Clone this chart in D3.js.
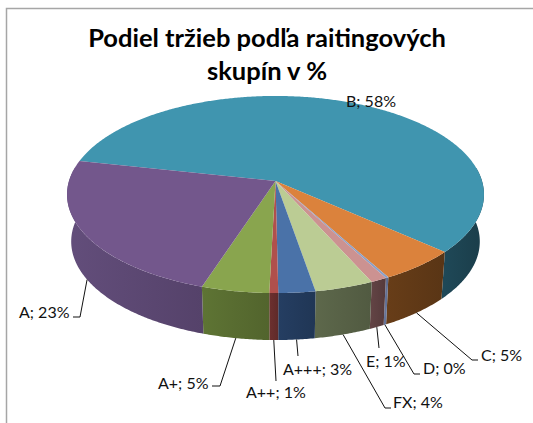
<!DOCTYPE html>
<html>
<head>
<meta charset="utf-8">
<script src="https://cdnjs.cloudflare.com/ajax/libs/d3/7.8.5/d3.min.js"></script>
<style>
  html, body { margin: 0; padding: 0; background: #fff; }
  svg { display: block; }
  text { font-family: Lato, "Open Sans", sans-serif; fill: #111; }
</style>
</head>
<body>
<div id="chart"></div>
<script>
  const titleLines = ["Podiel tržieb podľa raitingových", "skupín v %"];

  const categories = ["B", "C", "D", "E", "FX", "A+++", "A++", "A+", "A"];
  const shares = [58.2, 5.4, 0.2, 1.1, 4, 2.5, 0.6, 4.6, 23.4];
  const topColors = ["#4095AF", "#DB823C", "#8AA0C8", "#CC9291", "#BBCC94", "#4A72A8", "#B0504C", "#89A54E", "#73578C"];
  const sideColors = ["#1C4250", "#5E3816", "#5C6A8C", "#5A3D3E", "#555F45", "#22395A", "#642C2B", "#566A30", "#5A4670"];

  // label layout: text anchor point and the leader's elbow + end
  const labelLayout = {
    "B":    { x: 346, y: 107 },
    "C":    { x: 481, y: 361, leader: [[472, 360], [478, 360]] },
    "D":    { x: 423, y: 374, leader: [[414, 374], [420, 374]] },
    "E":    { x: 366, y: 367, leader: [[379, 348]] },
    "FX":   { x: 393, y: 408, leader: [[385, 408], [391, 408]] },
    "A+++": { x: 283, y: 375, leader: [[298, 356]] },
    "A++":  { x: 246, y: 398, leader: [[276, 381]] },
    "A+":   { x: 158, y: 389, leader: [[220, 386], [212, 386]] },
    "A":    { x: 19,  y: 318, leader: [[80, 317], [73, 317]] }
  };

  const width = 533, height = 423;
  const cx = 275.5, cy = 181, radiusX = 206.5, radiusY = 96.7, tilt = 0.137, depth = 47;
  const lowerScale = 0.98;
  const startDeg = 282.3;
  const frontFrom = 82, frontTo = 278;

  const rad = d => d * Math.PI / 180;

  // angle in degrees, clockwise from the top, onto the tilted disc
  const project = (deg, drop = 0, scaleX = 1) => {
    const px = Math.sin(rad(deg));
    const py = -Math.cos(rad(deg));
    const w = 1 - tilt * py;
    return [cx + scaleX * radiusX * px / w, cy + radiusY * py / w + drop];
  };

  const sweep = (a, b) => {
    const n = Math.max(2, Math.ceil((b - a) * 2));
    return d3.range(n + 1).map(i => a + (b - a) * i / n);
  };

  const line = d3.line();

  const svg = d3.select("#chart").append("svg")
    .attr("width", width)
    .attr("height", height);

  // chart frame, only left and top edges are in the crop
  svg.append("path")
    .attr("d", line([[6.5, height], [6.5, 8.5], [width, 8.5]]))
    .attr("fill", "none")
    .attr("stroke", "#A6A6A6")
    .attr("stroke-width", 1.5);

  svg.selectAll("text.title")
    .data(titleLines)
    .enter()
      .append("text")
      .attr("class", "title")
      .attr("x", 267)
      .attr("y", (d, i) => 47 + i * 33)
      .attr("text-anchor", "middle")
      .style("font-size", "25.5px")
      .style("font-weight", "700")
      .style("fill", "#000")
      .text(d => d);

  const arcs = d3.pie().sort(null)
    .startAngle(rad(startDeg))
    .endAngle(rad(startDeg + 360))(shares)
    .map((d, i) => ({
      name: categories[i],
      value: shares[i],
      top: topColors[i],
      side: sideColors[i],
      from: d.startAngle * 180 / Math.PI,
      to: d.endAngle * 180 / Math.PI
    }));

  const defs = svg.append("defs");

  // walls: front half of the rim, lower ring is a little narrower
  const walls = [];
  arcs.forEach((d, i) => {
    [0, 360].forEach(shift => {
      const a = Math.max(d.from, frontFrom + shift);
      const b = Math.min(d.to, frontTo + shift);
      if (b > a) walls.push({ d, i, a, b });
    });
  });

  walls.forEach((w, j) => {
    const xs = [project(w.a)[0], project(w.b)[0]];
    const g = defs.append("linearGradient")
      .attr("id", "wall" + j)
      .attr("gradientUnits", "userSpaceOnUse")
      .attr("x1", d3.min(xs)).attr("x2", d3.max(xs))
      .attr("y1", 0).attr("y2", 0);
    const base = d3.color(w.d.side);
    g.append("stop").attr("offset", "0%").attr("stop-color", base.brighter(0.25));
    g.append("stop").attr("offset", "100%").attr("stop-color", base.darker(0.15));
  });

  svg.selectAll("path.wall")
    .data(walls)
    .enter()
      .append("path")
      .attr("class", "wall")
      .attr("d", w => {
        const angles = sweep(w.a, w.b);
        const upper = angles.map(t => project(t));
        const lower = angles.slice().reverse().map(t => project(t, depth, lowerScale));
        return line(upper.concat(lower)) + "Z";
      })
      .attr("fill", (w, j) => "url(#wall" + j + ")");

  svg.selectAll("path.slice")
    .data(arcs)
    .enter()
      .append("path")
      .attr("class", "slice")
      .attr("d", d => line([[cx, cy]].concat(sweep(d.from, d.to).map(t => project(t)))) + "Z")
      .attr("fill", d => d.top);

  // leader lines start on the lower rim at each slice's middle
  const leaderPoints = d => {
    const layout = labelLayout[d.name];
    return [project((d.from + d.to) / 2, depth, lowerScale)].concat(layout.leader);
  };

  svg.selectAll("path.leader")
    .data(arcs.filter(d => labelLayout[d.name].leader))
    .enter()
      .append("path")
      .attr("class", "leader")
      .attr("d", d => line(leaderPoints(d)))
      .attr("fill", "none")
      .attr("stroke", "#111")
      .attr("stroke-width", 1);

  svg.selectAll("text.label")
    .data(arcs)
    .enter()
      .append("text")
      .attr("class", "label")
      .attr("x", d => labelLayout[d.name].x)
      .attr("y", d => labelLayout[d.name].y)
      .style("font-size", "16px")
      .text(d => d.name + "; " + Math.round(d.value) + "%");
</script>
</body>
</html>
